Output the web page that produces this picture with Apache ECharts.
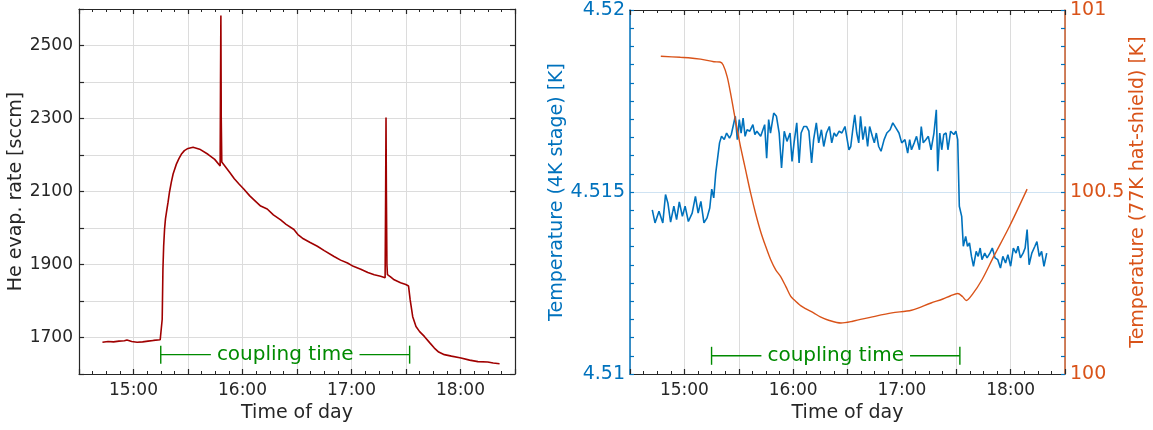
<!DOCTYPE html>
<html>
<head>
<meta charset="utf-8">
<script src="https://cdn.jsdelivr.net/npm/echarts@6/dist/echarts.min.js"></script>
<style>
  html, body { margin: 0; padding: 0; background: #ffffff; }
  #chart { width: 1153px; height: 430px; }
</style>
</head>
<body>
<div id="chart"></div>
<script>
// Helium boil-off rate (minutes after midnight, sccm)
const heTime = [882.9, 886, 889, 892, 895, 896.4, 899, 902, 905, 908,
  911, 914.7, 915.3, 915.8, 916.2, 916.6, 917.1, 917.6, 918.2, 919,
  919.8, 920.8, 921.8, 923.6, 925, 926.3, 928, 930, 932.8, 936.4,
  941, 944.7, 947.7, 947.9, 948.1, 948.3, 948.6, 953, 955.5, 958.2,
  960.7, 964, 967.2, 970, 973.6, 977, 981, 984, 988.3, 990.5,
  993, 997, 1001.2, 1005, 1010.4, 1014, 1017.8, 1021, 1025.1, 1029,
  1032.5, 1036, 1038.5, 1038.8, 1039.0, 1039.2, 1039.5, 1039.8, 1041.5, 1043.5,
  1047, 1049.9, 1051.4, 1052.3, 1053.7, 1055.5, 1057.5, 1060.1, 1063, 1065.6,
  1068, 1071.1, 1075, 1080.3, 1085, 1089.6, 1095, 1098, 1101.5];
const heRate = [1687, 1689, 1688, 1690, 1691, 1693, 1689, 1687, 1688, 1690,
  1692, 1694, 1695, 1750, 1887, 1950, 1997, 2025, 2045, 2070,
  2098, 2125, 2148, 2175, 2190, 2202, 2212, 2218, 2221, 2216,
  2202, 2188, 2170, 2400, 2582, 2300, 2181, 2152, 2135, 2120,
  2107, 2088, 2073, 2060, 2052, 2036, 2022, 2010, 1996, 1982,
  1972, 1961, 1950, 1938, 1922, 1912, 1904, 1895, 1887, 1878,
  1872, 1868, 1864, 2100, 2303, 2100, 1900, 1872, 1866, 1858,
  1850, 1845, 1841, 1803, 1757, 1730, 1716, 1703, 1686, 1671,
  1660, 1653, 1649, 1644, 1638, 1634, 1633, 1630, 1628];

// 4K stage temperature (minutes after midnight, K)
const time4K = [882.3, 883.8, 886.0, 888.1, 889.6, 890.9, 892.4, 894.2, 895.7, 897.2,
  898.9, 900.4, 902.2, 904.3, 906.1, 907.6, 909.1, 910.8, 912.5, 914.0,
  915.1, 916.2, 917.3, 919.4, 920.5, 922.0, 923.3, 924.9, 925.9, 927.0,
  928.1, 929.2, 930.3, 931.3, 932.4, 933.5, 934.6, 936.1, 937.8, 938.9,
  940.0, 942.1, 944.3, 945.4, 946.5, 947.5, 949.3, 950.8, 952.3, 953.6,
  955.1, 956.6, 958.3, 959.4, 960.5, 962.0, 963.3, 964.4, 965.9, 967.4,
  968.7, 970.2, 971.3, 972.8, 974.1, 975.6, 976.9, 978.4, 980.0, 981.3,
  982.6, 983.8, 985.4, 986.9, 988.6, 990.8, 991.8, 992.9, 994.0, 995.1,
  996.2, 997.2, 998.5, 999.8, 1001.1, 1002.2, 1003.7, 1004.8, 1005.9, 1007.2,
  1008.5, 1010.2, 1011.7, 1013.5, 1015.0, 1016.7, 1018.4, 1019.9, 1021.7, 1023.2,
  1024.3, 1025.3, 1026.8, 1028.1, 1029.7, 1030.7, 1031.8, 1033.3, 1034.6, 1036.1,
  1037.7, 1039.0, 1039.8, 1040.9, 1042.0, 1043.1, 1044.4, 1045.4, 1046.9, 1048.7,
  1049.8, 1050.8, 1051.7, 1053.0, 1053.9, 1055.2, 1056.2, 1057.3, 1058.4, 1059.5,
  1061.0, 1062.1, 1063.2, 1064.2, 1065.7, 1067.0, 1068.6, 1069.9, 1071.4, 1072.9,
  1074.4, 1075.7, 1077.2, 1078.5, 1080.0, 1081.5, 1083.0, 1084.1, 1085.4, 1086.9,
  1088.0, 1089.1, 1090.2, 1091.7, 1093.4, 1094.5, 1095.8, 1097.1, 1098.4, 1099.9];
const temp4K = [4.51451, 4.51415, 4.51447, 4.51415, 4.51493, 4.51470, 4.51417, 4.51461, 4.51424, 4.51473,
  4.51433, 4.51461, 4.51419, 4.51442, 4.51488, 4.51442, 4.51474, 4.51415, 4.51429, 4.51456,
  4.51508, 4.51484, 4.51552, 4.51635, 4.51653, 4.51644, 4.51662, 4.51648, 4.51658, 4.51653,
  4.51708, 4.51644, 4.51699, 4.51662, 4.51703, 4.51653, 4.51671, 4.51667, 4.51685, 4.51658,
  4.51667, 4.51653, 4.51685, 4.51593, 4.51699, 4.51662, 4.51717, 4.51708, 4.51662, 4.51566,
  4.51667, 4.51639, 4.51662, 4.51584, 4.51635, 4.51690, 4.51580, 4.51662, 4.51680, 4.51680,
  4.51667, 4.51580, 4.51644, 4.51690, 4.51635, 4.51671, 4.51625, 4.51662, 4.51680, 4.51635,
  4.51662, 4.51653, 4.51667, 4.51662, 4.51680, 4.51616, 4.51625, 4.51671, 4.51712, 4.51662,
  4.51635, 4.51708, 4.51644, 4.51680, 4.51625, 4.51680, 4.51653, 4.51635, 4.51662, 4.51625,
  4.51612, 4.51644, 4.51662, 4.51671, 4.51690, 4.51676, 4.51662, 4.51635, 4.51644, 4.51607,
  4.51644, 4.51616, 4.51635, 4.51653, 4.51616, 4.51680, 4.51635, 4.51644, 4.51653, 4.51616,
  4.51662, 4.51726, 4.51557, 4.51662, 4.51616, 4.51658, 4.51662, 4.51616, 4.51667, 4.51658,
  4.51667, 4.51644, 4.51461, 4.51433, 4.51351, 4.51378, 4.51351, 4.51360, 4.51323, 4.51296,
  4.51337, 4.51323, 4.51346, 4.51314, 4.51332, 4.51319, 4.51332, 4.51346, 4.51319, 4.51314,
  4.51291, 4.51323, 4.51305, 4.51328, 4.51296, 4.51346, 4.51332, 4.51351, 4.51319, 4.51332,
  4.51346, 4.51397, 4.51300, 4.51332, 4.51351, 4.51364, 4.51323, 4.51337, 4.51296, 4.51332];

// 77K hat-shield temperature (minutes after midnight, K)
const time77K = [887.0, 897.8, 902.2, 908.9, 916.3, 919.6, 921.4, 923.6, 925.5, 927.3,
  929.2, 931.0, 933.8, 936.6, 939.3, 942.1, 944.9, 947.7, 950.4, 953.2,
  956.0, 958.7, 960.5, 965.0, 971.3, 975.0, 980.0, 986.4, 992.9, 1003.7,
  1014.5, 1025.3, 1036.1, 1042.6, 1046.9, 1050.8, 1053.4, 1055.6, 1058.8, 1064.2,
  1070.7, 1079.4, 1089.1];
const temp77K = [100.873, 100.870, 100.869, 100.865, 100.858, 100.857, 100.849, 100.817, 100.771, 100.721,
  100.670, 100.624, 100.560, 100.496, 100.441, 100.391, 100.350, 100.313, 100.286, 100.267,
  100.240, 100.213, 100.204, 100.185, 100.168, 100.157, 100.147, 100.140, 100.145, 100.157,
  100.168, 100.175, 100.195, 100.206, 100.215, 100.221, 100.213, 100.202, 100.218, 100.259,
  100.323, 100.406, 100.508];

// Coupling interval (start, end in minutes) and the level its bracket sits at
const couplingSpan = [915, 1052];
const couplingLevelHe = 1653;
const couplingLevel4K = 4.5105;
const couplingText = 'coupling time';

// Axis ranges and labelled ticks
const timeRange = [870, 1110];          // 14:30 .. 18:30
const heRange = [1600, 2600];
const heLabelled = [1700, 1900, 2100, 2300, 2500];
const range4K = [4.51, 4.52];
const labelled4K = [4.51, 4.515, 4.52];
const range77K = [100, 101];
const labelled77K = [100, 100.5, 101];

const FONT = '"DejaVu Sans", Verdana, sans-serif';
const INK = '#262626';
const GRID = '#dcdcdc';
const RED = '#a00000';
const BLUE = '#0072bd';
const BLUE_GRID = '#cfe3f3';
const ORANGE = '#d95319';
const ORANGE_AXIS = '#c4582a';
const GREEN = '#008a00';

// Tick marks point into the plot box (negative length flips them inward)
const TICK_MAJOR = -5;
const TICK_MINOR = -3;

const zip = (a, b) => a.map((v, i) => [v, b[i]]);
const near = (v, list) => list.some(x => Math.abs(x - v) < 1e-7);
const clock = v => {
  if (Math.abs(v % 60) > 1e-6) return '';
  const h = Math.round(v / 60);
  return h + ':00';
};

// Measure the bracket text so the line stops short of it on both sides
const measureCtx = document.createElement('canvas').getContext('2d');
measureCtx.font = '20px ' + FONT;
const couplingTextWidth = measureCtx.measureText(couplingText).width;

function bracket(params, api) {
  const y = api.value(2);
  const a = api.coord([api.value(0), y]);
  const b = api.coord([api.value(1), y]);
  const mid = (a[0] + b[0]) / 2;
  const half = couplingTextWidth / 2 + 6;
  const style = { stroke: GREEN, lineWidth: 1.4 };
  return {
    type: 'group',
    children: [
      { type: 'line', shape: { x1: a[0], y1: a[1], x2: mid - half, y2: a[1] }, style },
      { type: 'line', shape: { x1: mid + half, y1: b[1], x2: b[0], y2: b[1] }, style },
      { type: 'line', shape: { x1: a[0], y1: a[1] - 9, x2: a[0], y2: a[1] + 9 }, style },
      { type: 'line', shape: { x1: b[0], y1: b[1] - 9, x2: b[0], y2: b[1] + 9 }, style },
      { type: 'text', x: mid, y: a[1],
        style: { text: couplingText, fill: GREEN, fontSize: 20, fontFamily: FONT,
                 align: 'center', verticalAlign: 'middle' } }
    ]
  };
}

const timeAxis = (gridIndex, position, showLabels, showName) => ({
  type: 'value', gridIndex, position,
  min: timeRange[0], max: timeRange[1], interval: 30,
  name: showName ? 'Time of day' : '',
  nameLocation: 'middle', nameGap: 29,
  nameTextStyle: { color: INK, fontSize: 19, fontFamily: FONT },
  axisLine: { show: true, lineStyle: { color: INK, width: 1.2 } },
  axisTick: { show: true, length: TICK_MAJOR, lineStyle: { color: INK, width: 1.2 } },
  minorTick: { show: true, splitNumber: 4, length: TICK_MINOR, lineStyle: { color: INK, width: 1 } },
  axisLabel: { show: showLabels, formatter: clock, color: INK, fontSize: 17,
               fontFamily: FONT, margin: 8, showMinLabel: true, showMaxLabel: true },
  splitLine: { show: showLabels, lineStyle: { color: GRID, width: 1 } }
});

const chart = echarts.init(document.getElementById('chart'), null, { renderer: 'canvas' });

chart.setOption({
  backgroundColor: '#ffffff',
  animation: false,
  grid: [
    { left: 79, top: 9, width: 436, height: 365 },
    { left: 630, top: 10, width: 435, height: 364 }
  ],
  xAxis: [
    timeAxis(0, 'bottom', true, true),
    timeAxis(0, 'top', false, false),
    timeAxis(1, 'bottom', true, true),
    timeAxis(1, 'top', false, false)
  ],
  yAxis: [
    {
      type: 'value', gridIndex: 0, position: 'left',
      min: heRange[0], max: heRange[1], interval: 100,
      name: 'He evap. rate [sccm]', nameLocation: 'middle', nameGap: 48,
      nameTextStyle: { color: INK, fontSize: 19, fontFamily: FONT },
      axisLine: { show: true, lineStyle: { color: INK, width: 1.2 } },
      axisTick: { show: true, length: TICK_MAJOR, lineStyle: { color: INK, width: 1.2 } },
      axisLabel: { formatter: v => near(v, heLabelled) ? String(v) : '',
                   color: INK, fontSize: 17, fontFamily: FONT, margin: 6 },
      splitLine: { show: true, lineStyle: { color: GRID, width: 1 } }
    },
    {
      type: 'value', gridIndex: 0, position: 'right',
      min: heRange[0], max: heRange[1], interval: 100,
      axisLine: { show: true, lineStyle: { color: INK, width: 1.2 } },
      axisTick: { show: true, length: TICK_MAJOR, lineStyle: { color: INK, width: 1.2 } },
      axisLabel: { show: false }, splitLine: { show: false }
    },
    {
      type: 'value', gridIndex: 1, position: 'left',
      min: range4K[0], max: range4K[1], interval: 0.0005,
      name: 'Temperature (4K stage) [K]', nameLocation: 'middle', nameGap: 63,
      nameTextStyle: { color: BLUE, fontSize: 19, fontFamily: FONT },
      axisLine: { show: true, lineStyle: { color: BLUE, width: 1.5 } },
      axisTick: { show: true, length: -4, lineStyle: { color: BLUE, width: 1.2 } },
      axisLabel: { formatter: v => near(v, labelled4K) ? String(parseFloat(v.toFixed(4))) : '',
                   color: BLUE, fontSize: 19, fontFamily: FONT, margin: 5 },
      splitLine: { show: false }
    },
    {
      type: 'value', gridIndex: 1, position: 'right',
      min: range77K[0], max: range77K[1], interval: 0.05,
      name: 'Temperature (77K hat-shield) [K]', nameLocation: 'middle', nameGap: 50,
      nameTextStyle: { color: ORANGE, fontSize: 19, fontFamily: FONT },
      axisLine: { show: true, lineStyle: { color: ORANGE_AXIS, width: 1.5 } },
      axisTick: { show: true, length: -4, lineStyle: { color: BLUE, width: 1.2 } },
      axisLabel: { formatter: v => near(v, labelled77K) ? String(parseFloat(v.toFixed(3))) : '',
                   color: ORANGE, fontSize: 19, fontFamily: FONT, margin: 5 },
      splitLine: { show: false }
    },
    {
      // 4K-axis major gridline (only the labelled levels)
      type: 'value', gridIndex: 1, position: 'left',
      min: range4K[0], max: range4K[1], interval: 0.005,
      axisLine: { show: false }, axisTick: { show: false }, axisLabel: { show: false },
      splitLine: { show: true, lineStyle: { color: BLUE_GRID, width: 1.2 } }
    }
  ],
  series: [
    {
      type: 'line', xAxisIndex: 0, yAxisIndex: 0,
      data: zip(heTime, heRate), showSymbol: false, symbol: 'none',
      lineStyle: { color: RED, width: 1.6 }, z: 3
    },
    {
      type: 'custom', xAxisIndex: 0, yAxisIndex: 0,
      data: [[couplingSpan[0], couplingSpan[1], couplingLevelHe]],
      encode: { x: [0, 1], y: 2 }, renderItem: bracket, silent: true, z: 4
    },
    {
      type: 'line', xAxisIndex: 2, yAxisIndex: 2,
      data: zip(time4K, temp4K), showSymbol: false, symbol: 'none',
      lineStyle: { color: BLUE, width: 1.6 }, z: 3
    },
    {
      type: 'line', xAxisIndex: 2, yAxisIndex: 3,
      data: zip(time77K, temp77K), showSymbol: false, symbol: 'none', smooth: 0.3,
      lineStyle: { color: ORANGE, width: 1.4 }, z: 3
    },
    {
      type: 'custom', xAxisIndex: 2, yAxisIndex: 2,
      data: [[couplingSpan[0], couplingSpan[1], couplingLevel4K]],
      encode: { x: [0, 1], y: 2 }, renderItem: bracket, silent: true, z: 4
    }
  ]
});
</script>
</body>
</html>
